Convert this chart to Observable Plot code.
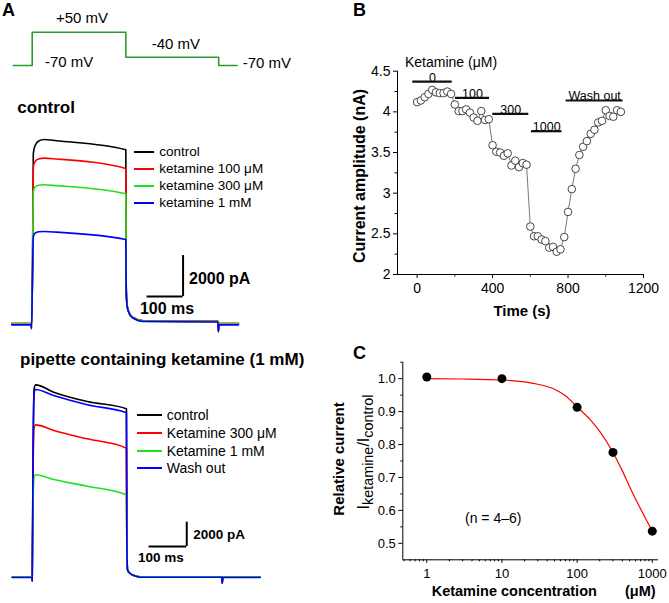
<!DOCTYPE html>
<html><head><meta charset="utf-8">
<script src="https://cdn.jsdelivr.net/npm/d3@7"></script>
<script src="https://cdn.jsdelivr.net/npm/@observablehq/plot@0.6"></script>
<style>
html,body{margin:0;padding:0;background:#fff;overflow:hidden;}
#fig{position:relative;width:669px;height:603px;overflow:hidden;font-family:"Liberation Sans",Arial,sans-serif;color:#000;}
#fig svg{position:absolute;left:0;top:0;}
.t{position:absolute;white-space:nowrap;line-height:1;}
.t sub{font-size:0.9em;vertical-align:-0.3em;line-height:0;}
.lg{position:absolute;height:2px;}
</style></head><body><div id="fig"></div>
<script>
// ================= DATA =================
// Panel A – voltage protocol (ms, mV)
const protoTime = [-51, 2, 262, 520, 571];
const protoVolt = [-70, 50, -40, -70, -70];

// Panel A – control recordings (ms, pA)
const ctlTime    = [-55, -1, 0, 3, 5, 10, 20, 35, 70, 262, 263, 265, 269, 280, 312, 518, 519, 521, 575];
const ctlControl = [0, 0, -200, 3000, 8300, 8700, 8920, 8990, 8930, 8490, 2000, 1000, 650, 320, 130, 110, -350, 0, 0];
const ctlKet100  = [30, 30, -150, 3000, 7650, 7920, 8040, 8080, 8040, 7580, 1900, 1000, 650, 330, 150, 130, -320, 30, 30];
const ctlKet300  = [0, 0, -150, 2800, 6450, 6680, 6760, 6780, 6740, 6340, 1800, 950, 620, 310, 130, 110, -300, 0, 0];
const ctlKet1mM  = [-50, -50, -250, 2500, 4250, 4420, 4490, 4500, 4470, 4110, 1700, 950, 600, 300, 110, 90, -400, -50, -50];
const ctlLabels  = ["control", "ketamine 100 \u03bcM", "ketamine 300 \u03bcM", "ketamine 1 mM"];
const ctlBarTime = [321, 421];      // 100 ms scale bar
const ctlBarCurrent = [1330, 3330]; // 2000 pA scale bar

// Panel A – pipette containing ketamine (ms, pA)
const pipTime    = [-53, -1, 0, 2, 5, 9, 57, 146, 250, 251, 253, 260, 270, 287, 503, 504, 506, 605];
const pipControl = [0, 0, -300, 9000, 15500, 15830, 15230, 14460, 13860, 3000, 600, 300, 140, 30, 30, -500, 0, 0];
const pipKet300  = [0, 0, -300, 8000, 12300, 12540, 12070, 11390, 10620, 2800, 600, 300, 140, 30, 30, -500, 0, 0];
const pipKet1mM  = [20, 20, -300, 6000, 8250, 8430, 8040, 7490, 6780, 2500, 600, 300, 140, 40, 40, -500, 20, 20];
const pipWash    = [-30, -30, -300, 9000, 15100, 15450, 14950, 14190, 13530, 3000, 600, 300, 140, 0, 0, -500, -30, -30];
const pipLabels  = ["control", "Ketamine 300 \u03bcM", "Ketamine 1 mM", "Wash out"];
const pipBarTime = [310, 410];
const pipBarCurrent = [2530, 4530];

// Panel B – current amplitude over time
const bTime = [0,20,40,60,80,100,120,140,160,180,200,220,240,260,280,300,320,340,360,380,400,420,440,460,480,500,520,540,560,580,600,620,640,660,680,700,720,740,760,780,800,820,840,860,880,900,920,940,960,980,1000,1020,1040,1060,1080];
const bAmp  = [4.12,4.14,4.18,4.22,4.27,4.24,4.23,4.23,4.25,4.22,4.09,4.01,4.01,4.03,3.99,3.93,3.89,4.01,3.90,3.91,3.59,3.51,3.50,3.46,3.49,3.34,3.40,3.32,3.37,3.35,2.59,2.47,2.47,2.43,2.41,2.33,2.34,2.28,2.31,2.46,2.77,3.05,3.30,3.47,3.57,3.64,3.73,3.78,3.87,3.89,4.02,3.95,3.94,4.02,4.00];
const barStart = [-23, 203, 401, 606, 790];
const barEnd   = [186, 384, 592, 768, 1092];
const barLevel = [4.373, 4.173, 3.976, 3.762, 4.14];
const barLabel = ["0", "100", "300", "1000", "Wash out"];
const bTicksX = [0, 400, 800, 1200];
const bMinorX = [200, 600, 1000];
const bTicksY = [2, 2.5, 3, 3.5, 4, 4.5];
const bMinorY = [2.25, 2.75, 3.25, 3.75, 4.25];

// Panel C – concentration response
const cConc = [1, 10, 100, 300, 1000];
const cRel  = [1.005, 1.0, 0.913, 0.776, 0.537];
const fitConc = [1, 3, 10, 20, 30, 50, 70, 100, 150, 200, 300, 400, 500, 700, 1000];
const fitRel  = [1.0, 0.999, 0.996, 0.99, 0.983, 0.968, 0.948, 0.914, 0.875, 0.84, 0.776, 0.72, 0.672, 0.604, 0.537];
const cTicksX = [1, 10, 100, 1000];
const cMinorX = [0.5,0.6,0.7,0.8,0.9,2,3,4,5,6,7,8,9,20,30,40,50,60,70,80,90,200,300,400,500,600,700,800,900];
const cTicksY = [0.5, 0.6, 0.7, 0.8, 0.9, 1.0];
const cMinorY = [0.55, 0.65, 0.75, 0.85, 0.95, 1.05];

// ================= RENDER =================
const FONT = '"Liberation Sans", Arial, sans-serif';
const fig = document.getElementById("fig");
const W = 669, H = 603;
const traceColors = ["#000000", "#ff0000", "#1fe01f", "#0000ff"];
const style = {fontFamily: FONT, fontSize: "14px", background: "transparent", overflow: "visible", color: "#000"};

function rows(time, series) {
  const out = [];
  series.forEach((vals, k) => vals.forEach((v, i) => out.push({t: time[i], v, k})));
  return out;
}
function page(opts) {
  const svg = Plot.plot(Object.assign({width: W, height: H, style}, opts));
  fig.appendChild(svg);
}

// Voltage protocol
page({
  marginLeft: 9.4, marginRight: W - 239.8, marginTop: 31.7, marginBottom: H - 65,
  x: {domain: [-60, 580], axis: null}, y: {domain: [-70, 50], axis: null},
  marks: [Plot.line(protoTime.map((t, i) => ({t, v: protoVolt[i]})), {x: "t", y: "v", curve: "step-after", stroke: "#2e9a2e", strokeWidth: 1.6})]
});

// Control traces
const ctlRows = rows(ctlTime, [ctlControl, ctlKet100, ctlKet300, ctlKet1mM]);
page({
  marginLeft: 9.4, marginRight: W - 239.8, marginTop: 118.3, marginBottom: H - 343.8,
  x: {domain: [-60, 580], axis: null}, y: {domain: [-1000, 10000], axis: null},
  marks: [
    ...[0,1,2,3].map(k => Plot.line(ctlRows.filter(d => d.k === k), {x: "t", y: "v", stroke: traceColors[k], strokeWidth: 1.6, curve: "monotone-x"})),
    Plot.ruleY([ctlBarCurrent[0]], {x1: ctlBarTime[0], x2: ctlBarTime[1], strokeWidth: 2}),
    Plot.ruleX([ctlBarTime[1]], {y1: ctlBarCurrent[0], y2: ctlBarCurrent[1], strokeWidth: 2}),
    Plot.text(["2000 pA"], {x: ctlBarTime[1], y: (ctlBarCurrent[0] + ctlBarCurrent[1]) / 2, dx: 6, dy: 3, textAnchor: "start", fontWeight: "bold", fontSize: 16}),
    Plot.text(["100 ms"], {x: (ctlBarTime[0] + ctlBarTime[1]) / 2, y: ctlBarCurrent[0], dx: 2, dy: 12, fontWeight: "bold", fontSize: 16})
  ]
});

// Pipette traces
const pipRows = rows(pipTime, [pipControl, pipKet300, pipKet1mM, pipWash]);
page({
  marginLeft: 9.1, marginRight: W - 265.4, marginTop: 370.15, marginBottom: H - 588.85,
  x: {domain: [-60, 620], axis: null}, y: {domain: [-1000, 17000], axis: null},
  marks: [
    ...[0,1,2,3].map(k => Plot.line(pipRows.filter(d => d.k === k), {x: "t", y: "v", stroke: traceColors[k], strokeWidth: 1.6, curve: "monotone-x"})),
    Plot.ruleY([pipBarCurrent[0]], {x1: pipBarTime[0], x2: pipBarTime[1], strokeWidth: 2}),
    Plot.ruleX([pipBarTime[1]], {y1: pipBarCurrent[0], y2: pipBarCurrent[1], strokeWidth: 2}),
    Plot.text(["2000 pA"], {x: pipBarTime[1], y: (pipBarCurrent[0] + pipBarCurrent[1]) / 2, dx: 6.5, dy: 0.5, textAnchor: "start", fontWeight: "bold", fontSize: 13.5}),
    Plot.text(["100 ms"], {x: (pipBarTime[0] + pipBarTime[1]) / 2, y: pipBarCurrent[0], dx: -7, dy: 11, fontWeight: "bold", fontSize: 13.5})
  ]
});

// Panel B
const bRows = bTime.map((t, i) => ({t, a: bAmp[i]}));
const bars = barLevel.map((y, i) => ({x1: barStart[i], x2: barEnd[i], y, label: barLabel[i]}));
page({
  marginLeft: 397, marginRight: W - 643, marginTop: 70.7, marginBottom: H - 274,
  x: {domain: [-104, 1200]}, y: {domain: [2, 4.5]},
  marks: [
    Plot.ruleY([2], {stroke: "#000", strokeWidth: 1}),
    Plot.ruleX([-104], {stroke: "#000", strokeWidth: 1}),
    Plot.axisX(bTicksX, {tickSize: 4, tickPadding: 5, fontSize: 14, label: null, tickFormat: d => String(d)}),
    Plot.axisX(bMinorX, {tickSize: 2.5, label: null, tickFormat: () => ""}),
    Plot.axisY(bTicksY, {tickSize: 4, tickPadding: 3, fontSize: 14, label: null, tickFormat: d => String(d)}),
    Plot.axisY(bMinorY, {tickSize: 2.5, label: null, tickFormat: () => ""}),
    Plot.line(bRows, {x: "t", y: "a", stroke: "#555", strokeWidth: 0.8}),
    Plot.dot(bRows, {x: "t", y: "a", r: 3.8, fill: "#fff", stroke: "#333", strokeWidth: 0.9}),
    Plot.ruleY(bars, {x1: "x1", x2: "x2", y: "y", stroke: "#111", strokeWidth: 2.2}),
    Plot.text(bars, {x: d => (d.x1 + d.x2) / 2, y: "y", text: "label", lineAnchor: "middle", dy: -4, fontSize: 12.5})
  ]
});

// Panel C
const cRows = cConc.map((c, i) => ({c, r: cRel[i]}));
const fitRows = fitConc.map((c, i) => ({c, r: fitRel[i]}));
page({
  marginLeft: 402.3, marginRight: W - 658, marginTop: 361.7, marginBottom: H - 559.3,
  x: {type: "log", domain: [0.48, 1210]}, y: {domain: [0.45, 1.05]},
  marks: [
    Plot.ruleY([0.45], {stroke: "#000", strokeWidth: 1}),
    Plot.ruleX([0.48], {stroke: "#000", strokeWidth: 1}),
    Plot.axisX(cTicksX, {tickSize: 3.5, tickPadding: 5, fontSize: 13, label: null, tickFormat: d => String(d)}),
    Plot.axisX(cMinorX, {tickSize: 2, label: null, tickFormat: () => ""}),
    Plot.axisY(cTicksY, {tickSize: 4, tickPadding: 3, fontSize: 13, label: null, tickFormat: d => d.toFixed(1)}),
    Plot.axisY(cMinorY, {tickSize: 2, label: null, tickFormat: () => ""}),
    Plot.line(fitRows, {x: "c", y: "r", stroke: "#ff0000", strokeWidth: 1.2, curve: "monotone-x"}),
    Plot.dot(cRows, {x: "c", y: "r", r: 4.5, fill: "#000"})
  ]
});

// ================= TEXT & LEGENDS (layout) =================
function addText(html, x, y, size, o = {}) {
  const d = document.createElement("div");
  d.className = "t";
  d.innerHTML = html;
  d.style.left = x + "px";
  d.style.top = y + "px";
  d.style.fontSize = size + "px";
  if (o.bold) d.style.fontWeight = "bold";
  const tx = o.middle ? "-50%" : "0";
  d.style.transform = `translate(${tx},-50%)` + (o.rotate ? " rotate(-90deg)" : "");
  fig.appendChild(d);
}
addText("A", 2, 10, 18, {bold: true});
addText("+50 mV", 56, 16.7, 15);
addText("-70 mV", 45, 60.7, 15);
addText("-40 mV", 151.7, 43.3, 15);
addText("-70 mV", 242.7, 62.3, 15);
addText("control", 17.3, 106.7, 17, {bold: true});
addText("pipette containing ketamine (1 mM)", 20, 359.3, 17, {bold: true});
addText("B", 353, 10, 18, {bold: true});
addText("Ketamine (\u03bcM)", 405, 61.5, 14);
addText("Current amplitude (nA)", 360, 175.7, 16, {bold: true, middle: true, rotate: true});
addText("Time (s)", 522, 310, 15, {bold: true, middle: true});
addText("C", 353, 353.3, 18, {bold: true});
addText("Relative current", 338.3, 459.2, 15, {bold: true, middle: true, rotate: true});
addText("I<sub>ketamine</sub>/I<sub>control</sub>", 364, 452, 16, {middle: true, rotate: true});
addText("(n = 4\u20136)", 465, 518.3, 14);
addText("Ketamine concentration", 431.7, 590.7, 14.5, {bold: true});
addText("(\u03bcM)", 625, 590.7, 14.5, {bold: true});

function legend(labels, x1, x2, tx, ys, size) {
  labels.forEach((lab, i) => {
    const l = document.createElement("div");
    l.className = "lg";
    l.style.left = Math.round(x1) + "px";
    l.style.top = Math.round(ys[i] - 1) + "px";
    l.style.width = Math.round(x2 - x1) + "px";
    l.style.background = traceColors[i];
    fig.appendChild(l);
    addText(lab, tx, ys[i], size);
  });
}
legend(ctlLabels, 134.3, 154.3, 159.3, [152.3, 169.3, 186, 202.7], 13.5);
legend(pipLabels, 137.3, 162.7, 166.7, [415, 433, 451, 468], 14);
</script></body></html>
